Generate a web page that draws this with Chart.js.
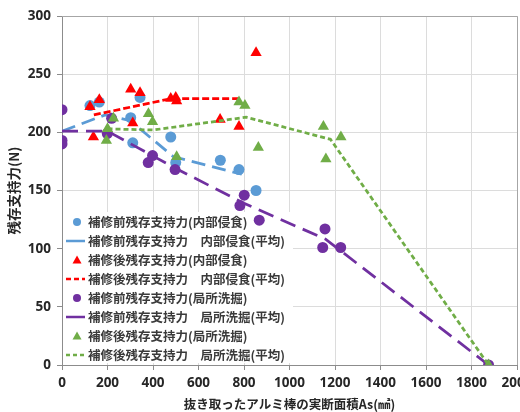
<!DOCTYPE html>
<html><head><meta charset="utf-8">
<script src="https://cdn.jsdelivr.net/npm/chart.js@4.4.0/dist/chart.umd.min.js"></script>
<style>
html,body{margin:0;padding:0;overflow:hidden;background:#fff;width:520px;height:412px}
#wrap{position:absolute;left:0;top:0;width:540px;height:412px}
</style>
</head><body><div id="wrap"><canvas id="c"></canvas></div>
<script>
// ---- data ----
const xTicks = [0,200,400,600,800,1000,1200,1400,1600,1800,2000];
const yTicks = [0,50,100,150,200,250,300];

const labels = [
  '補修前残存支持力(内部侵食)',
  '補修前残存支持力　内部侵食(平均)',
  '補修後残存支持力(内部侵食)',
  '補修後残存支持力　内部侵食(平均)',
  '補修前残存支持力(局所洗掘)',
  '補修前残存支持力　局所洗掘(平均)',
  '補修後残存支持力(局所洗掘)',
  '補修後残存支持力　局所洗掘(平均)'
];

const beforeInternalX = [123,164,302,343,311,478,500,696,778,853];
const beforeInternalY = [223,226,212.6,230,191,196,174,176,168,150];
const beforeInternalAvgX = [0,190,300,490,790];
const beforeInternalAvgY = [201,215,210,179,164];

const afterInternalX = [123,164,302,343,138,311,478,500,504,695,778,853];
const afterInternalY = [222,228,237,234,196,208,229,230,227,211,205,268.5];
const afterInternalAvgX = [140,480,790];
const afterInternalAvgY = [215,229,229];

const beforeScourX = [0,0,0,199,218,379,398,497,801,782,867,1156,1146,1225,1875];
const beforeScourY = [219.5,193,190,199,212,174,180,168,146,137,124.5,117,101,101,0];
const beforeScourAvgX = [0,200,490,800,1160,1875];
const beforeScourAvgY = [201,201,170,139,108,0];

const afterScourX = [200,195,226,380,398,504,778,804,863,1149,1160,1226,1875];
const afterScourY = [203,193,212,216,209,179,226,223,187,205,177,196,0];
const afterScourAvgX = [200,400,810,1180,1875];
const afterScourAvgY = [203,202,213,194,0];

const pts = (xs, ys) => xs.map((x, i) => ({x, y: ys[i]}));

const BLUE = '#5B9BD5', RED = '#FF0000', PURPLE = '#7030A0', GREEN = '#70AD47';

function markerSet(label, xs, ys, color, style, r) {
  return {label, data: pts(xs, ys), backgroundColor: color, borderColor: color,
    pointStyle: style, pointRadius: r, pointBorderWidth: 0, showLine: false,
    legendKind: 'marker'};
}
function lineSet(label, xs, ys, color, dash, legendDash) {
  return {label, data: pts(xs, ys), borderColor: color, backgroundColor: color,
    showLine: true, pointRadius: 0, borderWidth: 2.75, borderDash: dash,
    legendKind: 'line', legendDash};
}

const datasets = [
  markerSet(labels[0], beforeInternalX, beforeInternalY, BLUE, 'circle', 5.5),
  lineSet(labels[1], beforeInternalAvgX, beforeInternalAvgY, BLUE, [14,7], []),
  markerSet(labels[2], afterInternalX, afterInternalY, RED, 'triangle', 6.5),
  lineSet(labels[3], afterInternalAvgX, afterInternalAvgY, RED, [7,3], [5,3]),
  markerSet(labels[4], beforeScourX, beforeScourY, PURPLE, 'circle', 5.5),
  lineSet(labels[5], beforeScourAvgX, beforeScourAvgY, PURPLE, [16,8], []),
  markerSet(labels[6], afterScourX, afterScourY, GREEN, 'triangle', 6.5),
  lineSet(labels[7], afterScourAvgX, afterScourAvgY, GREEN, [5,3], [4,3])
];
datasets.forEach((d, i) => { d.order = datasets.length - i; });

const legendPlugin = {
  id: 'insideLegend',
  beforeDatasetsDraw(chart) {
    const ctx = chart.ctx, a = chart.chartArea;
    const left = a.left + 1, top = a.bottom - 153;
    ctx.save();
    ctx.fillStyle = '#fff';
    ctx.fillRect(left, top, 230, 151);
    ctx.font = 'bold 12.5px "Noto Sans CJK JP"';
    ctx.textBaseline = 'middle';
    chart.data.datasets.forEach((d, i) => {
      const y = top + 10 + i * 19;
      if (d.legendKind === 'marker') {
        ctx.fillStyle = d.backgroundColor;
        ctx.beginPath();
        if (d.pointStyle === 'circle') {
          ctx.arc(left + 14, y, 4, 0, Math.PI * 2);
        } else {
          ctx.moveTo(left + 14, y - 4.5);
          ctx.lineTo(left + 18.5, y + 3.5);
          ctx.lineTo(left + 9.5, y + 3.5);
          ctx.closePath();
        }
        ctx.fill();
      } else {
        ctx.strokeStyle = d.borderColor;
        ctx.lineWidth = 2.5;
        ctx.setLineDash(d.legendDash);
        ctx.beginPath();
        ctx.moveTo(left + 3, y);
        ctx.lineTo(left + 22, y);
        ctx.stroke();
        ctx.setLineDash([]);
      }
      ctx.fillStyle = '#3a3a3a';
      ctx.fillText(d.label, left + 25, y);
    });
    ctx.restore();
  },
  afterDraw(chart) {
    const ctx = chart.ctx, a = chart.chartArea;
    ctx.save();
    ctx.strokeStyle = '#a6a6a6';
    ctx.lineWidth = 1;
    ctx.beginPath();
    ctx.moveTo(a.left, a.top + 0.5);
    ctx.lineTo(a.right + 0.5, a.top + 0.5);
    ctx.lineTo(a.right + 0.5, a.bottom);
    ctx.stroke();
    ctx.restore();
  }
};

const tickFont = {family: '"Noto Sans", "Liberation Sans", sans-serif', size: 13.5, weight: 'bold'};
const titleFont = {family: '"Noto Sans CJK JP", sans-serif', size: 13.5, weight: 'bold'};
const xTitleFont = {family: '"Noto Sans CJK JP", sans-serif', size: 12.5, weight: 'bold'};

new Chart(document.getElementById('c'), {
  type: 'scatter',
  data: {datasets},
  plugins: [legendPlugin],
  options: {
    responsive: true,
    maintainAspectRatio: false,
    animation: false,
    layout: {padding: {top: 16, right: 23, left: 0, bottom: 0}},
    plugins: {legend: {display: false}, tooltip: {enabled: false}},
    scales: {
      x: {
        type: 'linear', min: 0, max: 2000,
        afterBuildTicks: s => { s.ticks = xTicks.map(v => ({value: v})); },
        afterFit: s => { s.height = 47; },
        ticks: {font: tickFont, color: '#262626', padding: 5, maxRotation: 0, autoSkip: false,
          callback: v => String(v)},
        grid: {color: '#dcdcdc', tickColor: '#8c8c8c', tickLength: 5, drawTicks: true},
        border: {color: '#8c8c8c', width: 1},
        title: {display: true, text: '抜き取ったアルミ棒の実断面積As(㎟)', font: xTitleFont, color: '#262626', padding: {top: 0, bottom: 0}}
      },
      y: {
        type: 'linear', min: 0, max: 300,
        afterBuildTicks: s => { s.ticks = yTicks.map(v => ({value: v})); },
        afterFit: s => { s.width = 62; },
        ticks: {font: tickFont, color: '#262626', padding: 6, autoSkip: false,
          callback: v => String(v)},
        grid: {color: '#dcdcdc', tickColor: '#8c8c8c', tickLength: 5, drawTicks: true},
        border: {color: '#8c8c8c', width: 1},
        title: {display: true, text: '残存支持力(N)', font: titleFont, color: '#262626', padding: {top: 6, bottom: 0}}
      }
    }
  }
});
</script>
</body></html>
